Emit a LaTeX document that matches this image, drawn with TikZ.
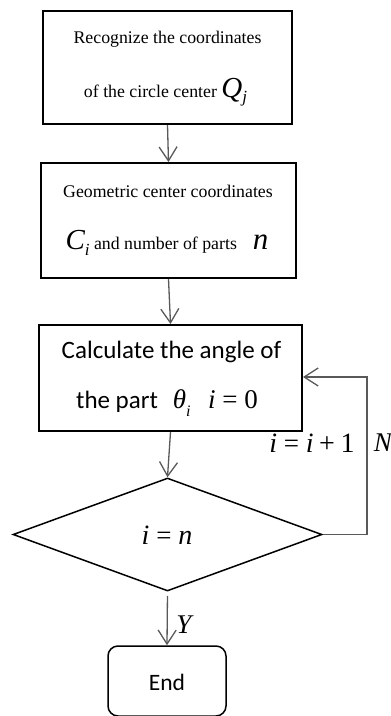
\documentclass[tikz,border=0pt]{standalone}
\usepackage{fontspec}
\setmainfont{Liberation Serif}
\newfontfamily\calib{Carlito}
\newfontfamily\mathser{Liberation Serif}
\usetikzlibrary{shapes.geometric,arrows.meta}
\newcommand\mv[2][27]{{\mathser\fontsize{#1}{#1}\selectfont\itshape #2}}
\newcommand\msub[2][16]{\raisebox{-0.3em}{\mathser\fontsize{#1}{#1}\selectfont\itshape #2}}
\newcommand\mup[2][27]{{\mathser\fontsize{#1}{#1}\selectfont #2}}
\newcommand\meq{\mup{\hspace{0.25em}=\hspace{0.25em}}}
\begin{document}
\begin{tikzpicture}[x=1pt,y=-1pt,
  box/.style={draw=black,line width=2pt,inner sep=0pt},
  serif/.style={font=\fontsize{17.8}{20}\selectfont,inner sep=0pt},
  sans/.style={font=\calib\fontsize{25}{28}\selectfont,inner sep=0pt},
  conn/.style={draw=black!65,line width=1.3pt,-{Straight Barb[length=14pt,width=18pt,line width=1.3pt]}},
  lab/.style={inner sep=0pt}]
\useasboundingbox (0,0) rectangle (391,716);
% boxes
\node[box,minimum width=249pt,minimum height=113pt] (b1) at (167.5,67.5) {};
\node[box,minimum width=255pt,minimum height=115pt] (b2) at (168.5,220.5) {};
\node[box,minimum width=263pt,minimum height=106pt] (b3) at (170.5,378) {};
\node[diamond,draw=black,line width=1.5pt,inner sep=0pt,minimum width=309pt,minimum height=113pt] (d) at (167.5,534.5) {};
\node[draw=black,line width=1.5pt,rounded corners=10pt,minimum width=118pt,minimum height=70pt,inner sep=0pt] (e) at (167,681) {};
% texts
\node[serif] (t1a) at (167.5,39) {Recognize the coordinates};
\node[serif] (t1b) at (165.5,92) {of the circle center \mv[29]{Q}\msub[17]{j}};
\node[serif] (t2a) at (168,191) {Geometric center coordinates};
\node[serif] (t2b) at (167,243) {\mv[29]{C}\msub[17]{i} and number of parts\hspace{0.9em}\mv[31]{n}};
\node[sans] (t3a) at (171.5,352) {Calculate the angle of};
\node[sans] (t3b) at (167,403) {the part\hspace{0.6em}\mv{θ}\msub{i}\hspace{0.7em}\mv{i}\meq\mup{0}};
\node[lab] (td) at (167,535) {\mv[28]{i}\meq\mv[28]{n}};
\node[sans,font=\calib\fontsize{23.5}{26}\selectfont] (te) at (167,682) {End};
% connectors
\draw[conn] (b1.south) -- (b2.north);
\draw[conn] (b2.south) -- (b3.north);
\draw[conn] (b3.south) -- (d.north);
\draw[conn,shorten <=4pt] (d.south) -- (e.north);
\coordinate (fb) at (367,377);
\draw[conn] (d.east) -| (fb) -- (b3.east |- fb);
% labels
\node[lab] (li) at (312,443) {\mv[28]{i}\meq\mv[28]{i}\mup[28]{\hspace{0.2em}+\hspace{0.2em}1}};
\node[lab] (ln) at (383,443) {\mv[27]{N}};
\node[lab] (ly) at (184,625) {\mv[27]{Y}};
\end{tikzpicture}
\end{document}
